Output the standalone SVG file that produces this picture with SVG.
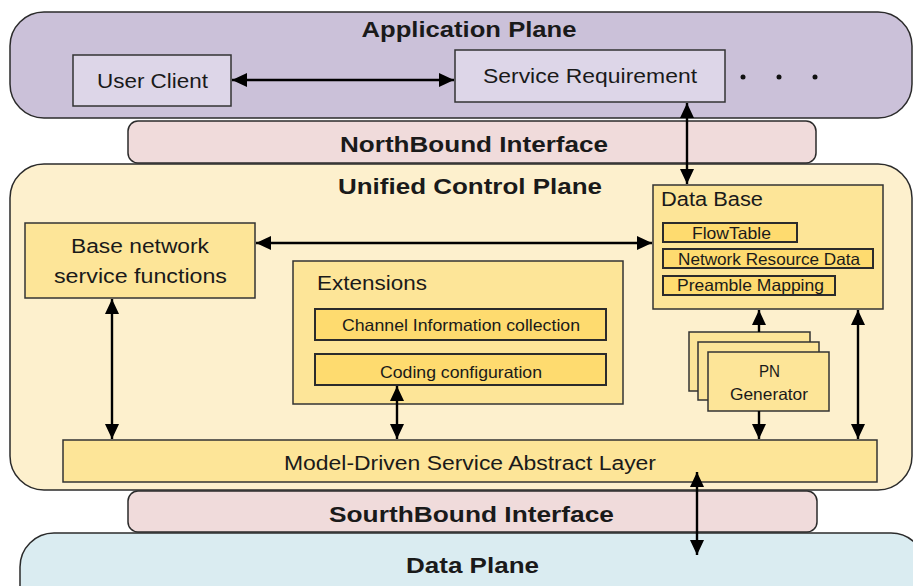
<svg xmlns="http://www.w3.org/2000/svg" width="913" height="586" viewBox="0 0 913 586">
  <defs>
    <marker id="head" viewBox="0 0 15 15" refX="15" refY="7.5" markerWidth="15" markerHeight="15" markerUnits="userSpaceOnUse" orient="auto-start-reverse">
      <path d="M0,0.5 L15,7.5 L0,14.5 z" fill="#000"/>
    </marker>
  </defs>
  <style>
    text { font-family: "Liberation Sans", Arial, sans-serif; fill: #1a1a1a; }
    .title { font-size: 22.5px; font-weight: bold; text-anchor: middle; }
    .lbl { font-size: 20px; }
    .small { font-size: 16.5px; }
    .mid { text-anchor: middle; }
    .plane { stroke: #2b2b2b; stroke-width: 1.5; }
    .box { stroke: #333; stroke-width: 1.5; }
    .inner { fill: #fedb6f; stroke: #2b2b2b; stroke-width: 2; }
    .yel { fill: #fde598; }
    .conn line { stroke: #000; stroke-width: 2.4; fill: none; }
  </style>

  <rect width="913" height="586" fill="#ffffff"/>

  <!-- Application plane -->
  <g id="application-plane">
    <rect class="plane" x="10" y="12" width="902" height="106" rx="34" fill="#cbc1d9"/>
    <text class="title" x="469" y="37" textLength="215" lengthAdjust="spacingAndGlyphs">Application Plane</text>
  </g>
  <g id="user-client">
    <rect class="box" x="73" y="55" width="158" height="51" fill="#ddd6e8"/>
    <text class="lbl mid" x="152.5" y="88" textLength="111" lengthAdjust="spacingAndGlyphs">User Client</text>
  </g>
  <g id="service-requirement">
    <rect class="box" x="455" y="50" width="270" height="52" fill="#ddd6e8"/>
    <text class="lbl mid" x="590" y="83" textLength="214" lengthAdjust="spacingAndGlyphs">Service Requirement</text>
  </g>
  <g id="more-apps" fill="#111">
    <circle cx="743" cy="77" r="2.5"/>
    <circle cx="779" cy="77" r="2.5"/>
    <circle cx="815" cy="77" r="2.5"/>
  </g>

  <!-- NorthBound interface -->
  <g id="northbound">
    <rect class="plane" x="128" y="121" width="688" height="42" rx="10" fill="#f0dbdb"/>
    <text class="title" x="474" y="152" textLength="268" lengthAdjust="spacingAndGlyphs">NorthBound Interface</text>
  </g>

  <!-- Unified control plane -->
  <g id="control-plane">
    <rect class="plane" x="10" y="164" width="902" height="326" rx="34" fill="#fdf0cd"/>
    <text class="title" x="470" y="194" textLength="264" lengthAdjust="spacingAndGlyphs">Unified Control Plane</text>
  </g>
  <g id="base-network">
    <rect class="box yel" x="25" y="223" width="230" height="75"/>
    <text class="lbl mid" x="140" y="253" textLength="138" lengthAdjust="spacingAndGlyphs">Base network</text>
    <text class="lbl mid" x="140.5" y="283" textLength="173" lengthAdjust="spacingAndGlyphs">service functions</text>
  </g>
  <g id="extensions">
    <rect class="box yel" x="293" y="261" width="330" height="143"/>
    <text class="lbl" x="317" y="290" textLength="110" lengthAdjust="spacingAndGlyphs">Extensions</text>
  </g>
  <g id="channel-info">
    <rect class="inner" x="315" y="309" width="291" height="31"/>
    <text class="small mid" x="461" y="331" textLength="238" lengthAdjust="spacingAndGlyphs">Channel Information collection</text>
  </g>
  <g id="coding-config">
    <rect class="inner" x="315" y="354" width="291" height="31"/>
    <text class="small mid" x="461" y="378" textLength="162" lengthAdjust="spacingAndGlyphs">Coding configuration</text>
  </g>
  <g id="data-base">
    <rect class="box yel" x="653" y="185" width="230" height="124"/>
    <text class="lbl" x="661" y="206" textLength="102" lengthAdjust="spacingAndGlyphs">Data Base</text>
  </g>
  <g id="flowtable">
    <rect class="inner" x="663" y="223" width="134" height="19"/>
    <text class="small mid" x="731.5" y="239" textLength="79" lengthAdjust="spacingAndGlyphs">FlowTable</text>
  </g>
  <g id="network-resource-data">
    <rect class="inner" x="663" y="249" width="210" height="19"/>
    <text class="small mid" x="769" y="265" textLength="182" lengthAdjust="spacingAndGlyphs">Network Resource Data</text>
  </g>
  <g id="preamble-mapping">
    <rect class="inner" x="663" y="276" width="172" height="19"/>
    <text class="small mid" x="750.5" y="291" textLength="147" lengthAdjust="spacingAndGlyphs">Preamble Mapping</text>
  </g>
  <g id="pn-generator">
    <rect class="box yel" x="689" y="332" width="121" height="59"/>
    <rect class="box yel" x="698" y="342" width="121" height="58"/>
    <rect class="box yel" x="708" y="352" width="121" height="59"/>
    <text class="small mid" x="769.5" y="377" textLength="21" lengthAdjust="spacingAndGlyphs">PN</text>
    <text class="small mid" x="769" y="400" textLength="78" lengthAdjust="spacingAndGlyphs">Generator</text>
  </g>
  <g id="mdsal">
    <rect class="box yel" x="63" y="440" width="814" height="42"/>
    <text class="mid" x="470" y="470" font-size="19.5" textLength="372" lengthAdjust="spacingAndGlyphs">Model-Driven Service Abstract Layer</text>
  </g>

  <!-- SouthBound interface -->
  <g id="southbound">
    <rect class="plane" x="128" y="491" width="689" height="41" rx="10" fill="#f0dbdb"/>
    <text class="title" x="471.5" y="522" textLength="285" lengthAdjust="spacingAndGlyphs">SourthBound  Interface</text>
  </g>

  <!-- Data plane -->
  <g id="data-plane">
    <rect class="plane" x="20" y="533" width="905" height="90" rx="34" fill="#daecf1"/>
    <text class="title" x="472.5" y="573" textLength="133" lengthAdjust="spacingAndGlyphs">Data Plane</text>
  </g>

  <!-- Connectors -->
  <g class="conn" id="connectors">
    <line x1="232" y1="80" x2="454" y2="80" marker-start="url(#head)" marker-end="url(#head)"/>
    <line x1="687" y1="103" x2="687" y2="184" marker-start="url(#head)" marker-end="url(#head)"/>
    <line x1="256" y1="243" x2="652" y2="243" marker-start="url(#head)" marker-end="url(#head)"/>
    <line x1="112" y1="299" x2="112" y2="439" marker-start="url(#head)" marker-end="url(#head)"/>
    <line x1="397" y1="386" x2="397" y2="439" marker-start="url(#head)" marker-end="url(#head)"/>
    <line x1="759" y1="332" x2="759" y2="310" marker-end="url(#head)"/>
    <line x1="759" y1="411" x2="759" y2="439" marker-end="url(#head)"/>
    <line x1="858" y1="310" x2="858" y2="439" marker-start="url(#head)" marker-end="url(#head)"/>
    <line x1="697" y1="472" x2="697" y2="555" marker-start="url(#head)" marker-end="url(#head)"/>
  </g>
</svg>
